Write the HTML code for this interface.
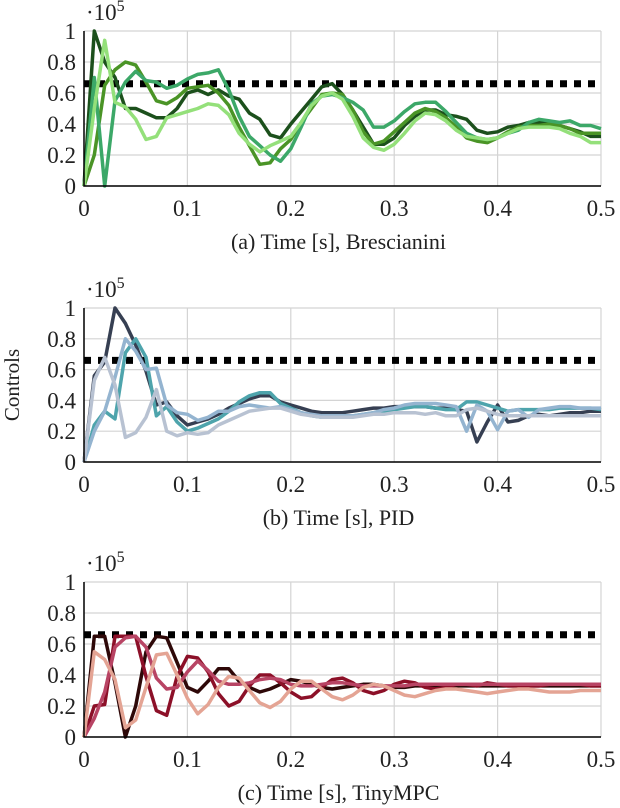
<!DOCTYPE html>
<html><head><meta charset="utf-8">
<style>
html,body{margin:0;padding:0;background:#fff;}
svg{display:block;font-family:"Liberation Serif",serif;}
</style></head>
<body>
<svg id="chart" width="620" height="808" viewBox="0 0 620 808" xmlns="http://www.w3.org/2000/svg">
<text transform="translate(19,385) rotate(-90)" text-anchor="middle" font-size="21" fill="#222">Controls</text>
</svg>
<script>
const xTicks=[0,0.1,0.2,0.3,0.4,0.5];
const xTickLabels=["0","0.1","0.2","0.3","0.4","0.5"];
const yTicks=[0,2,4,6,8,10];
const yTickLabels=["0","0.2","0.4","0.6","0.8","1"];
const limitValue=6.6;
const panelTitles=["(a) Time [s], Brescianini","(b) Time [s], PID","(c) Time [s], TinyMPC"];
const brescColors=["#1c501c","#4a9426","#3ca868","#94e07a"];
const pidColors=["#363f52","#4ea4ac","#94b4d0","#b8c2d2"];
const mpcColors=["#2e0808","#8c1028","#b84464","#e4a494"];
const bresc1=[0,10,8,7,5,5,4.7,4.4,4.4,5,6,6.2,5.9,6.2,5.8,5.6,4.7,4.3,3.3,3.1,4,4.8,5.6,6.4,6.6,5.9,4.9,3.8,2.7,2.7,3.1,3.9,4.5,4.9,4.9,4.6,4.5,4.3,3.6,3.4,3.5,3.8,3.9,4.1,4.1,4,3.9,3.7,3.5,3.2,3.2];
const bresc2=[0,2,6.5,7.5,8,7.8,6.7,5.5,5.3,5.7,6.3,6.4,6.5,6,5.2,3.8,2.6,1.4,1.5,2.4,3,4.1,5,5.9,6,5.9,4.9,3.5,2.7,2.9,3.5,4.1,4.7,5,4.8,4.4,3.8,3.1,2.9,2.8,3.1,3.5,3.8,3.9,3.9,4,3.9,3.7,3.4,3.4,3.4];
const bresc3=[0,7,0,5.5,6.7,7.4,6.8,6.7,6.3,6.5,6.9,7.2,7.3,7.5,6.2,4.5,3.2,2.6,2,1.6,2.4,3.8,5.3,5.8,5.9,5.7,5.4,4.9,3.8,3.8,4.2,4.8,5.3,5.4,5.4,4.8,4.1,3.4,3.1,3,3.1,3.4,3.6,4.1,4.3,4.2,4.1,4.2,3.9,3.9,3.7];
const bresc4=[0,5,9.4,5.4,5.1,4.3,3,3.2,4.4,4.6,4.8,5,5.3,5.2,4.6,3.4,2.7,2.2,2.6,2.9,3.2,4.1,5.2,5.8,6,5.6,4.5,3.1,2.5,2.3,2.7,3.4,4.2,4.7,4.6,4.2,3.6,3.2,3.1,3,3.1,3.4,3.7,3.8,3.8,3.8,3.7,3.4,3.2,2.8,2.8];
const pid1=[0,5.6,6.5,10,9,7.6,5.9,3.7,3.9,3,2.4,2.6,2.8,3.1,3.5,3.8,4.1,4.3,4.3,3.9,3.7,3.5,3.3,3.2,3.2,3.2,3.3,3.4,3.5,3.5,3.6,3.6,3.6,3.6,3.5,3.5,3.4,3.3,1.3,2.6,3.7,2.6,2.7,3,3.1,3,3.1,3.2,3.2,3.3,3.3];
const pid2=[0,2.4,3.3,2.8,7.1,8,6.8,3,3.6,2.6,2,2.2,2.5,2.8,3.3,3.9,4.3,4.5,4.5,3.8,3.5,3.2,3,2.9,2.9,3,3,3.1,3.2,3.3,3.4,3.5,3.6,3.6,3.5,3.4,3.4,3.9,3.9,3.7,3.5,3.3,3.4,3.4,3.4,3.4,3.5,3.5,3.5,3.5,3.4];
const pid3=[0,2,3.3,5.5,8,7.2,6,6.1,3.7,3.2,3.1,2.7,2.9,3.3,3.3,3.6,3.7,3.6,3.5,3.6,3.4,3.2,3.1,3,3,3,3,3.1,3.2,3.4,3.5,3.7,3.8,3.8,3.8,3.7,3.6,2,3.7,3.3,2.1,3.3,3.4,2.9,3.4,3.5,3.6,3.6,3.5,3.5,3.5];
const pid4=[0,5.3,6.8,5,1.6,1.9,2.9,4.7,2,1.7,1.9,1.8,1.9,2.4,2.7,3,3.3,3.4,3.5,3.5,3.3,3.1,3,2.9,2.9,2.9,2.9,3,3.1,3.1,3.2,3.2,3.2,3.1,3.2,3,3,3.4,3.5,3.3,3.1,3,3,3,3,3,3,3,3,3,3];
const mpc1=[0,6.5,6.5,3.5,0,2,5.5,6.5,6.4,4.8,3.2,2.9,3.6,4.4,4.4,3.6,3.2,2.9,3.1,3.4,3.7,3.6,3.4,3.2,3.1,3.2,3.3,3.4,3.4,3.3,3.2,3.2,3.3,3.3,3.3,3.3,3.3,3.3,3.3,3.3,3.3,3.3,3.3,3.3,3.3,3.3,3.3,3.3,3.3,3.3,3.3];
const mpc2=[0,2,2.1,6.5,6.5,6.5,3.9,1.7,1.4,3.9,5.2,5.1,4.2,2.8,2,2.3,3.3,4,4,3.5,2.9,2.5,2.6,3.2,3.7,3.8,3.5,3,2.8,3,3.4,3.6,3.5,3.2,3.1,3.2,3.4,3.4,3.3,3.5,3.4,3.3,3.3,3.3,3.3,3.4,3.4,3.4,3.4,3.3,3.3];
const mpc3=[0,1.2,2.9,5.8,6.4,6.5,5.8,3.8,3.1,3.2,4.2,4.9,4.3,3.6,3.4,3.4,3.5,3.7,3.8,3.7,3.4,3.3,3.3,3.4,3.5,3.5,3.4,3.3,3.3,3.3,3.3,3.3,3.4,3.4,3.4,3.4,3.4,3.4,3.4,3.4,3.4,3.4,3.4,3.4,3.4,3.4,3.4,3.4,3.4,3.4,3.4];
const mpc4=[0,5.5,5,3.7,0.6,1.1,3.2,5.3,5.4,4,2.5,1.5,2.1,3.2,3.9,3.8,3,2.2,1.9,2.3,3.1,3.6,3.6,3.1,2.6,2.4,2.7,3.2,3.4,3.3,3,2.7,2.6,2.8,3,3.1,3.1,3,2.9,2.8,2.9,3,3.1,3.1,3,2.9,2.9,2.9,3,3,3];

const NS="http://www.w3.org/2000/svg";
const svg=document.getElementById('chart');
const X0=84,X1=601;
const panels=[
 {top:31,bot:186,series:[bresc1,bresc2,bresc3,bresc4],colors:brescColors,key:'brescianini'},
 {top:308,bot:462,series:[pid1,pid2,pid3,pid4],colors:pidColors,key:'pid'},
 {top:582,bot:737,series:[mpc1,mpc2,mpc3,mpc4],colors:mpcColors,key:'tinympc'}
];
function mk(tag,attrs){const e=document.createElementNS(NS,tag);for(const k in attrs)e.setAttribute(k,attrs[k]);return e;}
panels.forEach((p,pi)=>{
 const xs=t=>X0+(t/0.5)*(X1-X0);
 const ys=v=>p.bot-(v/10)*(p.bot-p.top);
 const g=mk('g',{});
 
 
 svg.appendChild(g);
 xTicks.forEach((t,i)=>{
  const l=mk('line',{x1:xs(t),x2:xs(t),y1:p.top,y2:p.bot,stroke:'#d4d4d4','stroke-width':1.2});
  
  
  g.appendChild(l);
  const tx=mk('text',{x:xs(t),y:p.bot+30,'text-anchor':'middle','font-size':23,fill:'#222'});
  tx.textContent=xTickLabels[i];
  
  
  g.appendChild(tx);
 });
 yTicks.forEach((v,i)=>{
  const l=mk('line',{x1:X0,x2:X1,y1:ys(v),y2:ys(v),stroke:'#d4d4d4','stroke-width':1.2});
  
  
  g.appendChild(l);
  const tx=mk('text',{x:X0-8,y:ys(v)+8,'text-anchor':'end','font-size':23,fill:'#222'});
  tx.textContent=yTickLabels[i];
  
  
  g.appendChild(tx);
 });
 const ex=mk('text',{x:86,y:p.top-11,'font-size':23,fill:'#222'});
 ex.innerHTML='·10<tspan dy="-9" font-size="16">5</tspan>';
 
 
 g.appendChild(ex);
 const lim=mk('line',{x1:X0,x2:X1,y1:ys(limitValue),y2:ys(limitValue),stroke:'#000','stroke-width':7,'stroke-dasharray':'7 7'});
 
 
 g.appendChild(lim);
 p.series.forEach((arr,si)=>{
  const pts=arr.map((v,i)=>xs(i*0.01).toFixed(1)+','+ys(v).toFixed(1)).join(' ');
  const pl=mk('polyline',{points:pts,fill:'none',stroke:p.colors[si],'stroke-width':3.5,'stroke-linejoin':'round'});
  
  
  g.appendChild(pl);
 });
 const ax=mk('path',{d:`M${X0},${p.top}V${p.bot}H${X1}`,fill:'none',stroke:'#000','stroke-width':1.5});
 
 
 g.appendChild(ax);
 const ttl=mk('text',{x:(X0+X1)/2-4,y:p.bot+63,'text-anchor':'middle','font-size':22,fill:'#222'});
 ttl.textContent=panelTitles[pi];
 
 
 g.appendChild(ttl);
});
</script>
</body></html>
